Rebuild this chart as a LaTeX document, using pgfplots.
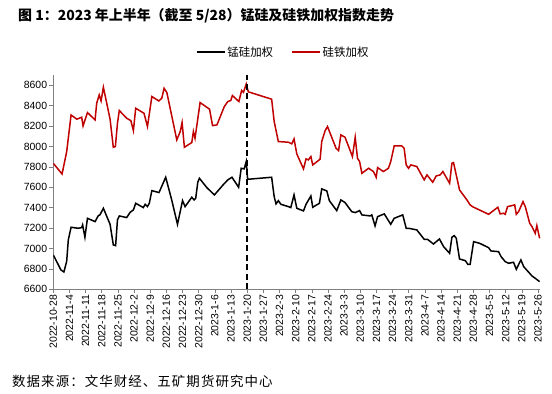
\documentclass[border=0pt]{standalone}
\usepackage{fontspec}
\setmainfont{Liberation Sans}
\newfontfamily\cjk{Noto Sans CJK SC}
\usepackage{pgfplots}
\pgfplotsset{compat=1.18}
\definecolor{myred}{RGB}{192,0,0}
\definecolor{axgray}{RGB}{128,128,128}
\begin{document}
\begin{tikzpicture}
\begin{axis}[
  scale only axis,
  width=487bp, height=214.3bp,
  at={(53.3bp,-289.3bp)}, anchor=south west,
  xmin=0, xmax=211, ymin=6600, ymax=8700,
  axis lines=left,
  axis line style={axgray, -},
  tick style={axgray, line width=0.6pt},
  tick align=outside,
  major tick length=4bp,
  ytick={6600,6800,...,8600},
  xtick={0,7,...,210},
  xticklabels={2022-10-28,2022-11-4,2022-11-11,2022-11-18,2022-11-25,2022-12-2,2022-12-9,2022-12-16,2022-12-23,2022-12-30,2023-1-6,2023-1-13,2023-1-20,2023-1-27,2023-2-3,2023-2-10,2023-2-17,2023-2-24,2023-3-3,2023-3-10,2023-3-17,2023-3-24,2023-3-31,2023-4-7,2023-4-14,2023-4-21,2023-4-28,2023-5-5,2023-5-12,2023-5-19,2023-5-26},
  x tick label style={rotate=90, anchor=east, font=\fontsize{10.5}{12}\selectfont, inner sep=1.5bp},
  y tick label style={font=\fontsize{10.5}{12}\selectfont, inner sep=2bp},
  /pgf/number format/assume math mode=true,
  /pgf/number format/set thousands separator={},
  legend columns=2,
  legend style={at={(0.472,1.107)}, anchor=center, draw=none, fill=none,
    font=\cjk\fontsize{11.5}{13}\selectfont, inner sep=0pt,
    /tikz/every even column/.append style={column sep=16bp}},
  legend image code/.code={\draw[#1] (0bp,0bp) -- (28bp,0bp);},
  legend cell align=left,
]
\addplot[black, line width=1.5bp] coordinates {
(0,6937)(3.3,6790)(4.6,6770)(5.8,6875)(6.5,7084)(7.7,7208)(10.8,7198)(12.3,7205)(12.7,7231)(13.7,7110)
(14.8,7296)(18.1,7263)(19.5,7322)(20.2,7329)(21.7,7394)(24.6,7237)(26.0,7035)(27.0,7028)(27.8,7280)(28.6,7319)
(31.8,7303)(33.3,7355)(34.7,7378)(35.7,7443)(39.0,7401)(39.8,7433)(40.8,7411)(41.6,7443)(42.7,7567)(45.8,7548)
(48.7,7698)(51.3,7476)(53.8,7237)(56.0,7469)(57.1,7410)(60.0,7502)(61.0,7476)(61.7,7492)(62.6,7649)(63.3,7688)
(66.5,7597)(69.8,7525)(73.8,7629)(75.6,7672)(77.4,7698)(80.3,7600)(81.4,7786)(82.7,7780)(83.6,7852)(84.2,7678)
(94.6,7698)(95.7,7508)(96.5,7437)(97.5,7469)(98.6,7433)(101.9,7410)(102.9,7401)(104.3,7525)(105.5,7394)(108.4,7368)
(109.5,7433)(111.6,7515)(112.4,7404)(115.3,7443)(116.3,7584)(118.5,7564)(119.6,7469)(122.8,7371)(124.6,7476)(126.4,7450)
(129.3,7361)(130.8,7352)(132.7,7371)(133.7,7329)(137.3,7319)(138.0,7329)(139.4,7221)(140.5,7312)(143.4,7339)(146.2,7237)
(147.7,7296)(151.4,7329)(152.9,7198)(153.9,7198)(157.5,7182)(160.7,7090)(162.1,7090)(164.7,7044)(167.3,7093)(169.1,7018)
(171.7,6953)(172.7,7110)(173.7,7126)(174.6,7100)(176.0,6897)(178.5,6881)(179.6,6845)(180.6,6845)(182.1,7067)(184.7,7051)
(188.6,7008)(189.6,6976)(192.9,6969)(194.0,6920)(195.8,6871)(197.3,6855)(199.4,6865)(200.6,6796)(202.6,6888)(203.8,6822)
(207.4,6731)(208.8,6708)(210.7,6675)
};
\addlegendentry{锰硅加权}
\addplot[myred, line width=1.5bp] coordinates {
(0,7835)(3.8,7730)(5.8,7949)(7.7,8308)(10.2,8267)(12.3,8286)(12.9,8201)(14.8,8332)(18.1,8260)(18.8,8424)
(19.9,8505)(20.7,8446)(21.7,8580)(24.6,8267)(26.0,7992)(26.9,7999)(27.8,8227)(28.6,8352)(31.8,8276)(33.6,8253)
(34.7,8155)(35.7,8374)(39.3,8325)(40.8,8195)(42.7,8489)(45.7,8446)(47.0,8472)(48.0,8570)(49.2,8528)(53.5,8064)
(55.0,8146)(55.8,8234)(56.8,7992)(60.0,8038)(60.7,8146)(61.4,8080)(63.6,8430)(67.7,8365)(69.0,8204)(70.9,8211)
(74.1,8391)(75.6,8440)(76.9,8450)(77.6,8499)(80.4,8440)(81.6,8548)(82.4,8531)(83.6,8613)(84.5,8535)(94.6,8463)
(95.7,8244)(97.5,8048)(101.9,8041)(103.3,8025)(104.3,8074)(105.5,7927)(108.4,7780)(109.5,7878)(110.5,7868)(111.6,7901)
(112.4,7819)(115.6,7875)(116.3,8048)(117.8,8156)(118.8,8195)(120.4,8103)(122.5,7982)(123.6,7959)(124.6,8113)(126.4,8090)
(129.6,7901)(130.8,8090)(131.8,7884)(132.7,7852)(133.7,7737)(136.6,7786)(138.7,7754)(139.9,7698)(140.5,7793)(143.0,7754)
(145.2,7786)(146.2,7852)(147.7,8005)(151.0,8005)(152.0,7982)(152.9,7819)(153.9,7786)(154.9,7819)(157.5,7803)(158.7,7754)
(160.7,7672)(161.9,7721)(164.4,7649)(165.9,7711)(167.6,7721)(168.8,7754)(171.7,7639)(172.7,7835)(173.4,7842)(176.0,7574)
(179.2,7476)(180.6,7427)(181.6,7410)(188.6,7335)(192.6,7404)(193.6,7339)(195.1,7345)(195.8,7335)(196.8,7410)(199.9,7427)
(200.6,7335)(201.6,7361)(203.5,7459)(204.5,7410)(206.4,7247)(207.4,7214)(208.8,7149)(209.5,7224)(210.7,7100)
};
\addlegendentry{硅铁加权}
\addplot[black, line width=1.5bp, dash pattern=on 6bp off 3.5bp, forget plot] coordinates {(84,6600)(84,8700)};
\end{axis}
\node[anchor=west, inner sep=0pt, font=\cjk\bfseries\fontsize{14}{16}\selectfont] at (18bp,-15.5bp) {图 1：2023 年上半年（截至 5/28）锰硅及硅铁加权指数走势};
\node[anchor=west, inner sep=0pt, font=\cjk\fontsize{13.5}{15}\selectfont\addfontfeatures{LetterSpace=8}] at (12bp,-381bp) {数据来源：文华财经、五矿期货研究中心};
\pgfresetboundingbox
\path[use as bounding box] (0,0) rectangle (552bp,-394bp);
\end{tikzpicture}
\end{document}
